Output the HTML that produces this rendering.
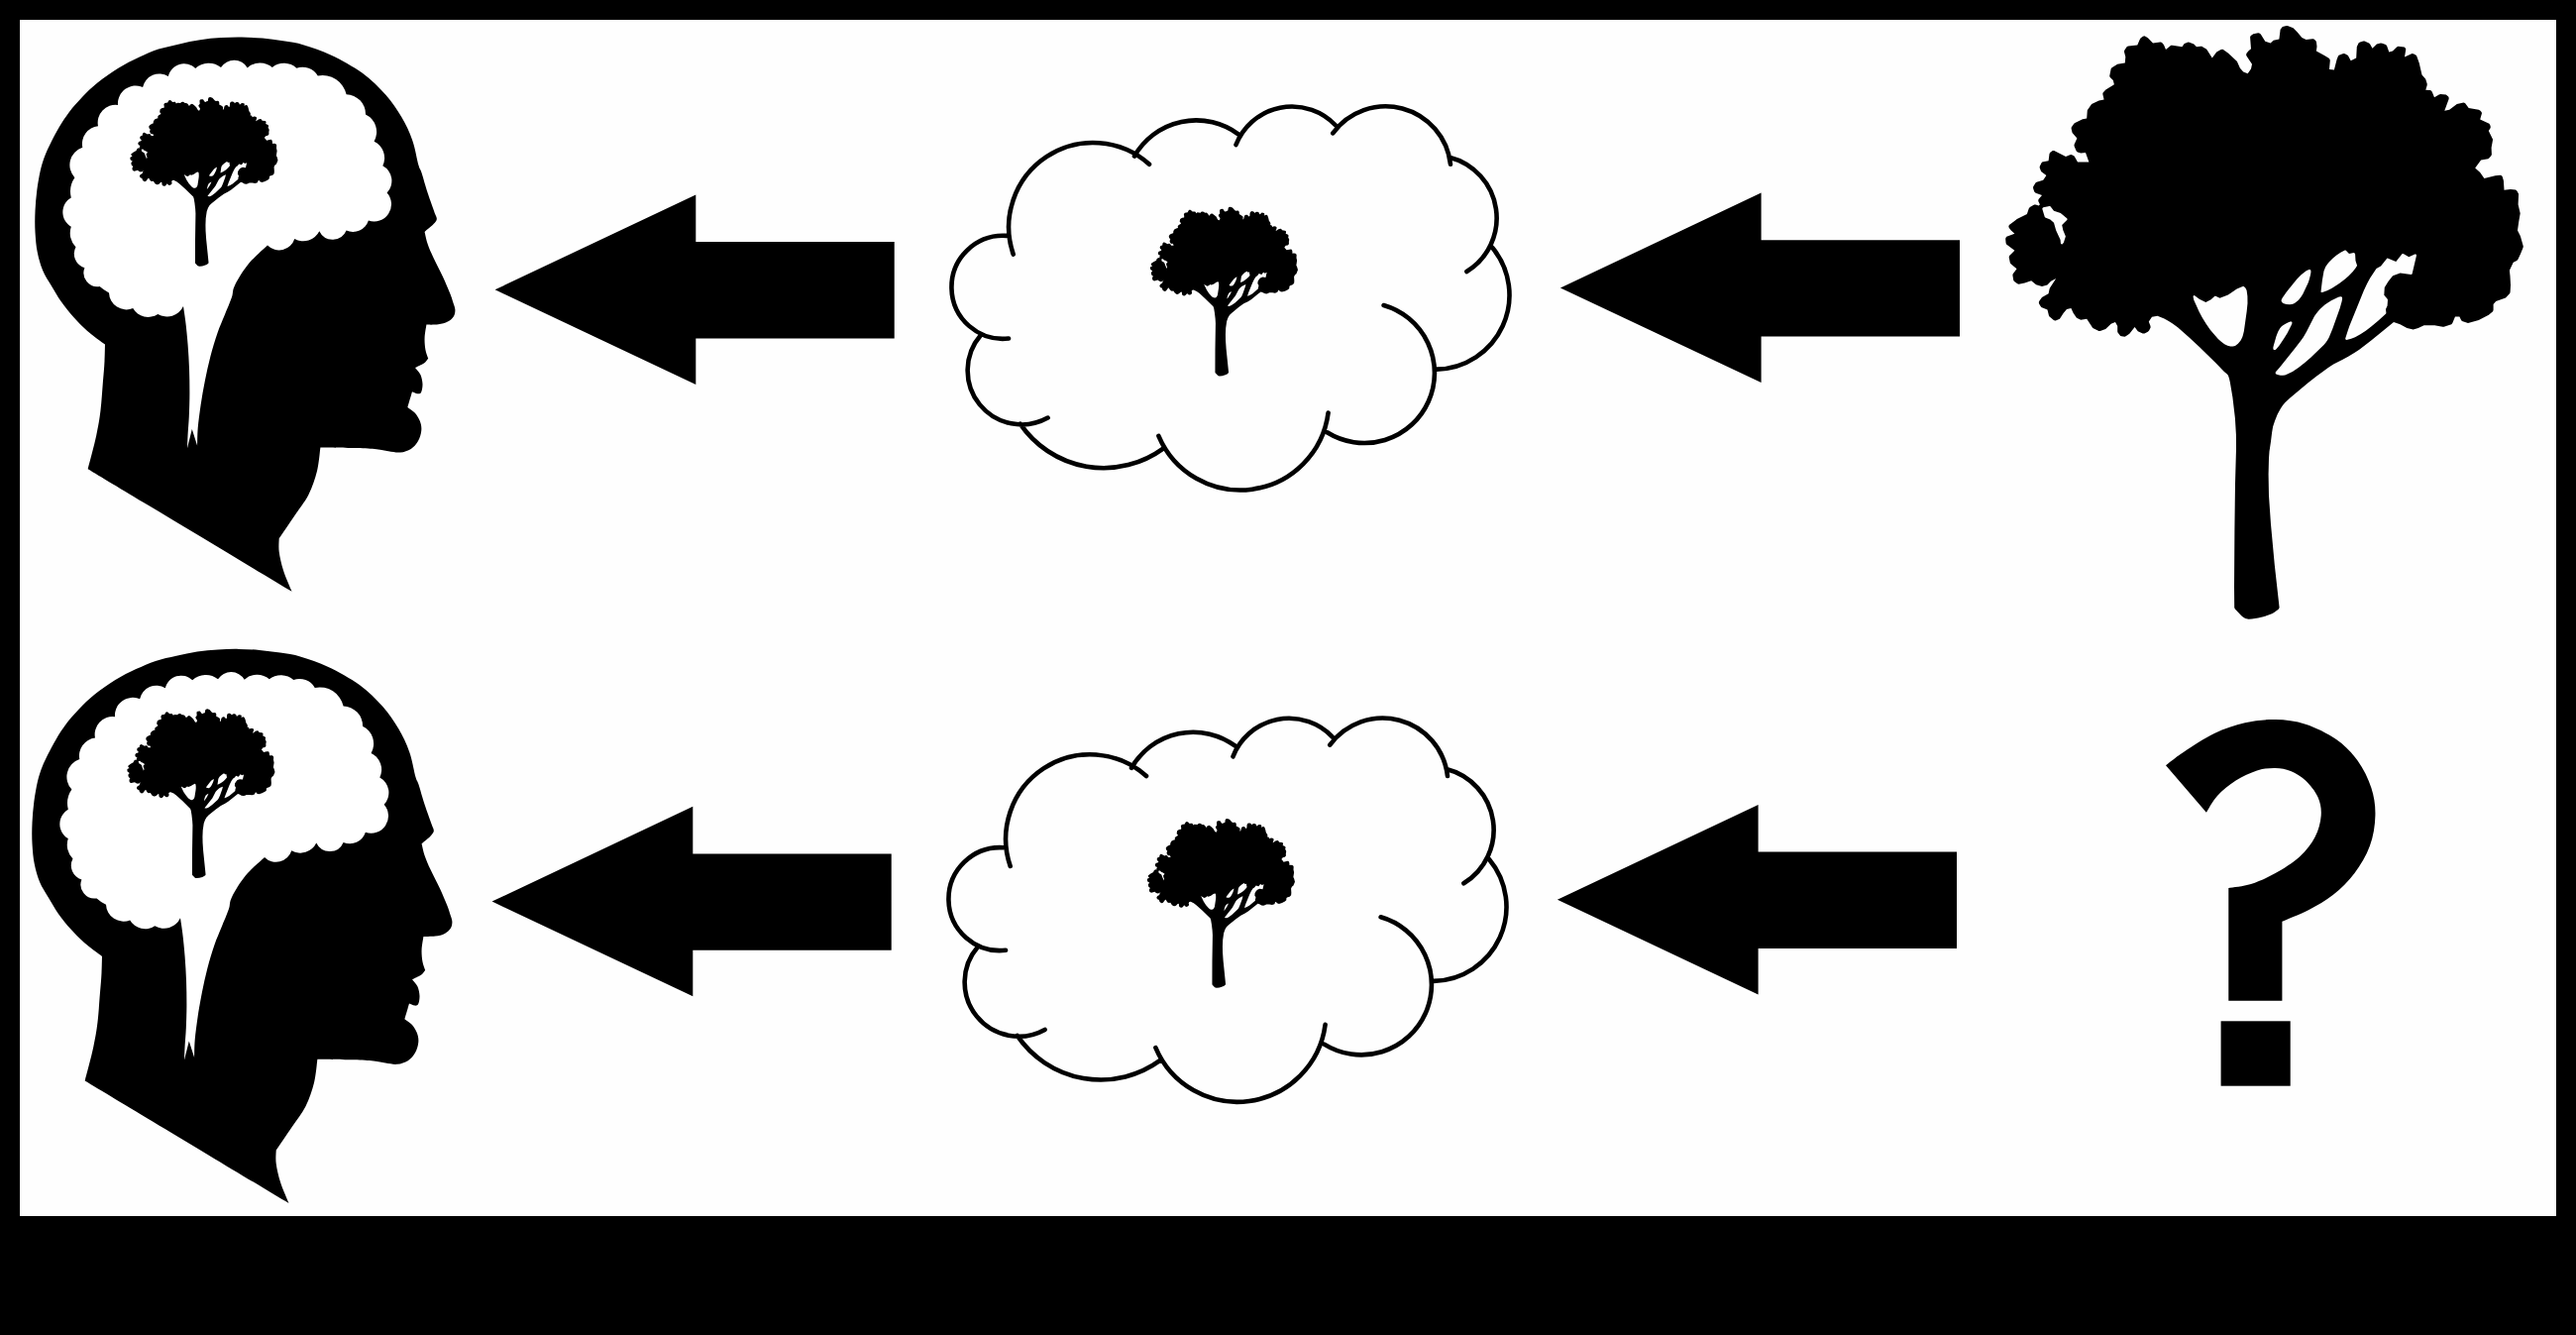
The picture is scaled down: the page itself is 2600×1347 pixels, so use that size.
<!DOCTYPE html>
<html><head><meta charset="utf-8"><title>diagram</title>
<style>
html,body{margin:0;padding:0;background:#000;}
body{width:2600px;height:1347px;overflow:hidden;font-family:"Liberation Sans",sans-serif;}
svg{display:block;}
</style></head><body>
<svg width="2600" height="1347" viewBox="0 0 2600 1347">
<defs>
<g id="tree">
<path d="M2033.4,235.8 L2025.3,238.8 L2024.4,239.9 L2024.2,241.2 L2024.6,245.2 L2025.1,246.5 L2033.4,252.8 L2028.4,257.8 L2028,258.3 L2027.7,259.5 L2028.8,265 L2029.3,266.1 L2035.5,271.3 L2031.6,276.4 L2031.4,277.8 L2032.3,282.9 L2033.1,283.9 L2036.2,286.3 L2037.6,286.8 L2043.6,285.4 L2050.2,283.3 L2055.1,287.2 L2061,289.1 L2066.4,287.5 L2070,283.7 L2075.2,281 L2069,290.5 L2068.6,291.4 L2067.6,296.3 L2061,300 L2058.3,303.7 L2057.8,305 L2058.1,306.5 L2059.6,309.1 L2060.3,310 L2066.5,312.6 L2068.1,318.9 L2072.8,323 L2074.1,323.5 L2074.8,323.5 L2078.9,321.7 L2082.8,315.8 L2086,312 L2090.4,311 L2092.7,316.1 L2096,320.7 L2100.2,322.8 L2106.2,321.8 L2112.3,330.9 L2118.4,334 L2119.7,334 L2125.2,332.1 L2130.7,326.7 L2135,325.1 L2137.2,328.9 L2137.2,334.5 L2137.5,335.6 L2140.2,338.9 L2141.4,339.3 L2144.5,339.7 L2145.6,339.3 L2149.3,336.7 L2154.6,330 L2157.8,334.2 L2162.7,336.6 L2164.5,336.4 L2167.9,334.7 L2169.1,333.5 L2170.6,330.4 L2170.5,328.9 L2168.8,324.5 L2172,319.7 L2177.6,318.7 L2184.4,321.6 L2188.9,323.9 L2193.2,326.7 L2198.3,330.6 L2209.3,340.2 L2220.1,350.2 L2236.7,366.4 L2244.9,375.1 L2247.6,377.2 L2248.4,378.1 L2249.2,379.6 L2250,381.9 L2250.8,385.6 L2253.4,400.7 L2255.9,421.9 L2256.9,438.6 L2257,452.8 L2256,487.8 L2255.4,534.7 L2255,592.2 L2255.2,612.9 L2255.7,614.2 L2256.1,614.7 L2262.3,621.3 L2264.1,622.8 L2266.3,624.1 L2269.5,624.8 L2272.9,624.6 L2279.2,623.6 L2284.5,622.3 L2289.7,620.6 L2293.6,618.9 L2295.6,617.7 L2299.7,614.7 L2300.4,613.6 L2300.6,613 L2295.8,570 L2292,529 L2290,500 L2289.6,478.6 L2290,462.5 L2290.5,455.4 L2292,445.5 L2293.1,436.6 L2294.1,430.6 L2296.1,424.4 L2298.7,418 L2302,411.9 L2304,409.1 L2306.3,406.3 L2311.4,401.5 L2329.3,386.4 L2337.9,379.7 L2349.9,370.9 L2355.2,367.4 L2364.1,363 L2370.1,359.7 L2376.7,355.8 L2381.3,352.7 L2393.3,343.5 L2416,325 L2422.5,327.2 L2429.4,331.1 L2435.7,332.5 L2440.8,331.1 L2446.6,328.3 L2457.3,328.3 L2465.4,329.8 L2466.6,329.7 L2474.3,327.2 L2475.3,326.1 L2478,319.6 L2482.4,319.6 L2484.1,322.9 L2485,323.9 L2491,325.9 L2501.8,322.9 L2511.9,317.7 L2516.1,314.3 L2516.6,312.8 L2516.6,307 L2519.2,303.9 L2529,300.4 L2533.2,295.9 L2533.6,294.8 L2534,287.8 L2533.5,278.4 L2532.9,272.8 L2536.7,264.7 L2540.2,262.9 L2541.4,261.7 L2544.3,255.4 L2546.6,249.7 L2546.8,248.6 L2543.9,238.2 L2541,232.6 L2542.2,223.9 L2543.7,215.2 L2541.6,206.3 L2542.1,195.7 L2540.6,192.9 L2539.5,191.8 L2538.8,191.6 L2533.9,190.9 L2527.5,191.8 L2526.9,182.3 L2525.6,178 L2524.6,177.1 L2523.2,176.8 L2518.5,177.2 L2507.4,179.9 L2503.2,174.1 L2498.2,169.6 L2504.1,161.4 L2511.3,160.3 L2512.3,159.6 L2514.3,157.3 L2514.9,156.1 L2514.6,149.1 L2516.1,140.7 L2511.8,132 L2513.7,129 L2513.7,127.5 L2513.2,126.1 L2512.4,124.8 L2503.2,120.5 L2505,114.3 L2504.6,113 L2503.2,111.4 L2501.8,110.7 L2491.7,109.1 L2488.4,104.6 L2487.9,104 L2486.5,103.5 L2479.8,104.9 L2472.2,110.8 L2467.3,111.8 L2471.6,100 L2471.7,98.8 L2471.2,97.6 L2468.8,95.6 L2463.2,95.1 L2461.7,95.4 L2457,98.3 L2454.8,92.7 L2453.9,91.6 L2452.6,91.1 L2448.3,90.7 L2449.7,85.9 L2449.7,84.5 L2448.2,79.8 L2444.5,75.4 L2441.7,63.6 L2439.1,56.3 L2438.2,55.4 L2436.4,54.4 L2434.6,54.1 L2427,57.5 L2428.3,49.7 L2427.8,48.4 L2426.7,47.5 L2420.5,46.8 L2419.1,47.5 L2415,51.5 L2411.3,52.6 L2409,46 L2407.9,45 L2404.4,43.7 L2402.9,43.6 L2398.9,44.6 L2394.5,48.8 L2392.1,44.6 L2391,43.5 L2386.6,41.4 L2385.3,41.5 L2382,42.5 L2380.8,43.2 L2380.4,43.8 L2378.8,47.2 L2378.2,58.6 L2372.7,61.3 L2369.9,56 L2366.8,54.2 L2365.3,54 L2361.3,55.5 L2360.1,56.3 L2358.6,60.1 L2355.9,70.5 L2351.2,70 L2351,69.8 L2351.8,61.3 L2351.6,59.9 L2350.6,58.8 L2346.1,55.9 L2337.9,51.5 L2338.5,46.9 L2338,42.6 L2337.3,41.1 L2336.1,39.9 L2335.1,39.3 L2333.9,39.2 L2327.6,40.1 L2323.4,38 L2318.8,32.4 L2314.6,28.2 L2308.8,26 L2307.7,25.9 L2303.8,27.1 L2301.6,29.8 L2300.4,39.6 L2294.6,40.8 L2291.7,43.4 L2286.3,41.7 L2281.8,34.5 L2280.4,33.4 L2279.2,33.3 L2274.3,34.2 L2271.8,35.9 L2271.2,37.1 L2271.1,37.8 L2272,49.3 L2269.6,51.2 L2267.7,53.4 L2267.4,53.9 L2267.1,55.2 L2267.5,56.4 L2273,64.8 L2272,69.5 L2268.7,74.3 L2264.2,72.6 L2260.9,68.7 L2258,62.3 L2257.4,61.4 L2249.1,53.8 L2243.9,50 L2243.2,49.8 L2241.7,50.1 L2237.2,52.6 L2232.8,58.6 L2227.7,50.4 L2226.9,49.6 L2222.2,46.8 L2221.1,46.7 L2217,47.2 L2214.3,44.5 L2209.8,42.7 L2208.6,42.5 L2208,42.7 L2204.7,44 L2202.4,47.2 L2192.6,45.7 L2191.2,45.8 L2186,49.9 L2184,45.3 L2182.1,43 L2180.9,42.5 L2180.3,42.5 L2173,43.4 L2167.9,38.2 L2165.4,36.7 L2164.2,36.3 L2162.4,37 L2160.1,39 L2157.3,45.5 L2148.2,46.5 L2146.8,47 L2144.4,50.5 L2143.9,51.9 L2145.3,57.2 L2144.8,63.5 L2137.2,64.7 L2131.6,68.3 L2130.7,69.3 L2129.2,76.8 L2129.7,78.1 L2132.8,80.9 L2133.9,85.2 L2125.4,90.5 L2122.6,93.4 L2122.3,94.7 L2122.4,95.3 L2123.6,100.4 L2118.5,101.6 L2111.1,104.9 L2106.8,111.3 L2106.2,119.5 L2102,120.2 L2094.3,124 L2093.3,124.8 L2090.7,128.4 L2090.6,129.8 L2091.6,134.1 L2096.4,139.6 L2093.5,146.1 L2093.6,147.6 L2095.5,152 L2095.8,152.6 L2096.9,153.4 L2100.2,154.6 L2105,154.1 L2108.4,163.4 L2097,163.4 L2093.6,157.5 L2090.7,156.1 L2089.3,156.2 L2085,157.9 L2073.2,151.9 L2071.8,152 L2069.1,153.9 L2068.5,155.2 L2067.6,162.3 L2062.3,163.2 L2061.2,163.6 L2060.4,164.5 L2058.7,168 L2058.7,169.3 L2060.1,173.1 L2065.4,177 L2062.2,181.8 L2055.6,183.7 L2054.5,184.4 L2052.1,188.6 L2052.1,190 L2053.1,193.1 L2053.7,194.1 L2054.7,194.7 L2061,197 L2057.8,200.7 L2057.3,201.8 L2057.3,203 L2058.9,206.3 L2057.8,207.4 L2054.6,206.6 L2053.2,206.6 L2048.8,209.1 L2047.7,210.5 L2045.9,216 L2035.8,221.1 L2027.9,226.9 L2027.4,228.2 L2027.4,228.9 L2027.9,230.1 L2029.8,232.6Z" fill="#000"/>
<path d="M2061.3,210.8 L2063.8,219.1 L2064.3,219.5 L2069.3,221.6 L2073,224.8 L2075.2,232.5 L2079.6,242.1 L2079.9,245.6 L2080.5,246.2 L2081.1,246.4 L2081.7,246.2 L2082.9,244.7 L2084.9,238.6 L2082.3,232.3 L2081.2,227 L2086.2,222 L2086.6,221.4 L2086.4,220.4 L2079.8,215.1 L2073,212.8 L2069.7,208.5 L2069.1,208.1 L2068.5,208.1 L2062.3,209.3 L2061.5,209.9ZM2343.4,295.1 L2344,295.1 L2349.4,293.1 L2353.8,290.8 L2361.1,286 L2367,281.5 L2370.7,278.2 L2374.8,273.9 L2377.5,270.5 L2379.1,267.9 L2377.5,262.9 L2377.1,256.3 L2376.6,255.4 L2375.7,255.1 L2371,256 L2367.8,252.8 L2367.3,252.5 L2366.7,252.5 L2362.4,254.8 L2358.3,257.4 L2354.4,260.7 L2350.9,264.2 L2348.9,266.7 L2347.2,269.2 L2345.5,273.5 L2343.9,282.8 L2342.5,294.4 L2342.9,294.9ZM2327.7,273.3 L2322.6,277.2 L2318.2,281.8 L2307.9,294.4 L2303.7,300.6 L2302.8,302.2 L2302.6,303.4 L2302.7,304.1 L2303.3,305.1 L2304.4,305.9 L2307.5,307 L2311,307.3 L2313,307.1 L2314.9,306.5 L2316.6,305.6 L2320,302.7 L2322.9,298.9 L2324.4,296.5 L2329.5,285.8 L2330.5,283 L2331.9,277.8 L2332.4,274.9 L2332.4,273.2 L2332.2,272.4 L2331.6,271.9 L2330.4,271.9ZM2368.4,343 L2369.3,342.8 L2373.1,341.7 L2377,340.2 L2382.4,337.3 L2387.8,333.7 L2393.3,329.5 L2400.5,323.4 L2408.2,316.5 L2408.4,315.7 L2408,312 L2409.6,308.5 L2410,302.7 L2409.7,301.8 L2406.3,297.8 L2406.8,290.1 L2410.7,283.7 L2415.1,278.3 L2422.6,275.5 L2433.5,277 L2434.6,276.6 L2439,257.8 L2438.7,256.7 L2438.2,256.4 L2437.3,256.4 L2431.3,259.2 L2425.7,255.9 L2424.6,255.9 L2418.3,264.1 L2410.4,260.7 L2409.5,260.6 L2409,261 L2403,268.5 L2398.5,270.9 L2392.2,280.4 L2389.1,286.2 L2385.7,293.5 L2371.3,329.1 L2369.6,333.9 L2367.2,341.4 L2367.3,342.3 L2367.8,342.8ZM2213.5,299 L2214.3,302.7 L2219.6,314.5 L2222.8,320.5 L2226.5,326.6 L2230.8,332.7 L2235.5,338.3 L2238.8,342 L2242.2,345.1 L2245.2,347.3 L2248.3,348.8 L2251.2,349.5 L2253.7,349.5 L2256,348.9 L2258.9,346.8 L2261.6,343.5 L2263.1,340.6 L2263.8,338.6 L2264.9,333.9 L2267.7,314 L2268.5,306 L2268.4,298.8 L2267.6,293.1 L2266.5,290.7 L2264.8,289.1 L2264.2,288.9 L2263.6,289 L2257.7,291.5 L2248.9,297.4 L2240.5,300.7 L2236.3,298.8 L2235.4,298.8 L2231.6,302.3 L2226.3,305 L2219.8,301.7 L2215.4,298.4 L2214.8,298.1 L2214.2,298.2ZM2296.6,352.9 L2297.7,352.1 L2300.6,348.5 L2305.6,341.1 L2308.7,336.1 L2312.6,328.3 L2313.5,325.9 L2313.3,325 L2312.9,324.6 L2311.6,324.5 L2309.1,325.4 L2306.3,326.9 L2303.9,328.4 L2302.4,329.7 L2301.2,331.2 L2299.2,334.8 L2297.4,339.6 L2294.7,349 L2294.3,351 L2294.5,352.5 L2295.2,353.1 L2295.8,353.1ZM2360.2,299.8 L2353,303.3 L2348.7,305.9 L2346.5,307.6 L2342,311.5 L2339.8,313.9 L2337.8,316.4 L2336,319.1 L2328.1,334.5 L2324.8,340.2 L2321.7,344.6 L2316.3,351.5 L2300.9,370.7 L2296.9,375.3 L2296.6,376.6 L2297.3,377.4 L2299.5,378.3 L2301.8,378.8 L2304.1,378.8 L2306.3,378.4 L2308.6,377.6 L2313.9,375 L2319.8,371.1 L2325.9,366.3 L2332,360.9 L2345.5,348.1 L2347.6,345.6 L2349.3,343 L2350.7,340.4 L2354.2,331.9 L2361.7,310.9 L2363.6,304.2 L2364.1,301.5 L2364,300.3 L2363.5,299.4 L2362.2,299.2Z" fill="#fefefe"/>
</g>
<path id="stree" d="M2024.8,237.6 L2023.4,239 L2022.9,241 L2023.9,247 L2031.4,252.9 L2027,257.5 L2026.4,259.8 L2028.1,266.6 L2033.7,271.5 L2030.3,276.3 L2031,283.1 L2032.1,284.7 L2035.4,287.3 L2037.9,288 L2049.9,284.8 L2054.7,288.4 L2061,290.4 L2066.8,288.8 L2071.4,284.5 L2067.8,290 L2066.4,295.4 L2060,299.3 L2057.3,302.9 L2056.5,305.3 L2057,307.1 L2059.4,310.8 L2065.4,313.6 L2067,319.6 L2072.2,324.2 L2074.8,324.8 L2079.5,322.9 L2086.7,313.2 L2089.6,312.5 L2091.7,316.8 L2095.4,321.9 L2100,324.1 L2105.6,323.2 L2111.2,331.6 L2117.8,335.2 L2120.1,335.2 L2125.6,333.4 L2131.4,327.8 L2134.4,326.7 L2135.9,329.3 L2135.9,334.5 L2136.5,336.5 L2139.7,340.1 L2144.3,341 L2146.4,340.3 L2150,337.7 L2154.6,332.1 L2157.3,335.4 L2162.1,337.8 L2165,337.6 L2168.5,335.8 L2170.3,334.1 L2171.9,330.2 L2170.2,324.6 L2172.8,320.9 L2177.4,320 L2188.2,325.1 L2197.5,331.6 L2219.2,351.1 L2247.3,378.9 L2249.6,385.8 L2252.1,400.8 L2254.6,422 L2255.6,438.7 L2254.1,534.7 L2253.9,612.9 L2254.7,615.1 L2263.2,623.8 L2266,625.4 L2269.6,626.1 L2279.5,624.8 L2290.2,621.8 L2296.4,618.7 L2300.4,615.7 L2301.9,613.3 L2293.3,528.9 L2291.3,500 L2290.9,478.6 L2291.8,455.5 L2295.4,430.9 L2299.9,418.6 L2305,409.8 L2312.3,402.5 L2338.6,380.8 L2355.8,368.5 L2370.8,360.9 L2382,353.8 L2416.3,326.5 L2421.9,328.3 L2429.1,332.4 L2436.1,333.8 L2441.4,332.2 L2446.9,329.6 L2457.2,329.6 L2467,331 L2475.3,328.1 L2478.9,320.9 L2481.6,320.9 L2483.1,323.8 L2484.6,325.2 L2491.4,327.1 L2502.4,324 L2512.7,318.8 L2517.4,314.7 L2517.9,307.5 L2520,305 L2529.4,301.7 L2534.5,296.3 L2535.3,287.8 L2534.3,273 L2537.7,265.7 L2540.8,264.1 L2542.6,262.2 L2548.1,248.8 L2545.1,237.9 L2542.4,232.4 L2545,215.4 L2542.9,206.2 L2543.4,195.8 L2541.8,192.3 L2538.9,190.3 L2533.7,189.6 L2528.7,190.3 L2528.2,181.9 L2526.8,177.6 L2525.4,176.1 L2523.1,175.5 L2518.4,175.9 L2507.9,178.4 L2504.2,173.3 L2500,169.4 L2504.9,162.6 L2512.1,161.3 L2515.5,157.9 L2516.2,156.1 L2515.9,149.2 L2517.3,140.9 L2513.3,132.1 L2515,129 L2514.5,125.7 L2513,123.6 L2504.8,119.8 L2506.2,114 L2505.6,112.1 L2504.2,110.5 L2502,109.4 L2492.4,107.9 L2488.8,103.1 L2486.2,102.2 L2479,103.8 L2471.6,109.6 L2469.3,110 L2472.8,100.4 L2472.5,97.1 L2469,94.3 L2463.4,93.8 L2461,94.3 L2457.6,96.4 L2455,90.8 L2453.1,89.8 L2450,89.5 L2450.9,84.1 L2449.2,79 L2445.7,74.8 L2443,63.3 L2440.3,55.8 L2437,53.3 L2434.8,52.8 L2428.7,55.3 L2429.5,49.2 L2427.5,46.5 L2420.2,45.5 L2418.2,46.5 L2414.3,50.3 L2412.1,51 L2409.8,45 L2404.9,42.5 L2402.6,42.3 L2398.5,43.3 L2394.8,46.7 L2391.9,42.6 L2387.2,40.3 L2384.9,40.2 L2381.6,41.2 L2379.7,42.5 L2377.6,46.7 L2376.9,57.8 L2373.3,59.6 L2371.1,55.4 L2367,53 L2364.9,52.7 L2360.8,54.3 L2358.9,55.9 L2357.4,59.6 L2354.9,69.1 L2352.4,68.8 L2353.1,61.4 L2352.6,59 L2346.8,54.8 L2339.3,50.8 L2339.8,46.7 L2339.3,42.5 L2337,39 L2334,37.9 L2327.8,38.7 L2324.2,36.9 L2315.5,27.3 L2307.9,24.6 L2303,26 L2300.6,29 L2299.2,38.5 L2294.3,39.5 L2291.4,41.9 L2287.2,40.6 L2282.9,33.8 L2280.9,32.2 L2274.1,32.9 L2270.6,35.3 L2269.8,37.7 L2270.6,48.7 L2266.8,52.5 L2265.8,54.9 L2266.4,57.1 L2271.6,65 L2270.8,69 L2268.2,72.7 L2265,71.5 L2262,68 L2258.3,60.5 L2249.9,52.7 L2243.4,48.5 L2241.1,49 L2236.6,51.5 L2232.9,56.3 L2227.5,48.5 L2222.4,45.5 L2217.5,45.8 L2214.8,43.3 L2210.3,41.5 L2208.3,41.2 L2204.2,42.8 L2201.8,45.8 L2191.1,44.6 L2186.5,47.8 L2185.1,44.5 L2182.6,41.8 L2180.3,41.2 L2173.5,42 L2168.5,37.1 L2164.1,35 L2161.6,36 L2159.2,38.1 L2156.4,44.3 L2146.3,45.8 L2143.3,49.7 L2142.7,51.5 L2144,57.3 L2143.6,62.4 L2136.5,63.6 L2130.9,67.2 L2129.4,69.1 L2128,77.2 L2128.8,79 L2131.6,81.6 L2132.4,84.6 L2124.7,89.4 L2121.7,92.5 L2121,94.8 L2122,99.4 L2118,100.4 L2110,104.2 L2105.7,110.6 L2105,118.4 L2101.4,119 L2093.7,122.9 L2089.5,128.3 L2090.3,134.3 L2094.8,139.8 L2092.2,146.3 L2094.4,152.6 L2096.1,154.4 L2099.8,155.8 L2104.1,155.5 L2106.5,162.1 L2097.8,162.1 L2094.7,156.8 L2091.3,154.9 L2088.9,155 L2085.1,156.5 L2073.2,150.6 L2071.1,150.9 L2068.4,152.9 L2067.3,155 L2066.4,161.2 L2060.2,162.8 L2057.4,168 L2058.9,173.6 L2063.6,177.3 L2061.4,180.7 L2053.8,183.3 L2050.8,188.6 L2052.6,194.8 L2058.8,197.6 L2056,201.8 L2057.2,205.9 L2053.2,205.3 L2048.2,208 L2046.5,210.1 L2044.8,215.1 L2035.2,220 L2027.2,225.9 L2026.2,227.6 L2026.2,229.3 L2028.8,233.4 L2030.9,235.3ZM2368.5,341.6 L2372.5,329.6 L2386.9,294 L2393.3,281.1 L2399.4,271.9 L2404,269.3 L2409.9,262 L2418.3,265.4 L2419.3,264.9 L2425.2,257.2 L2431.2,260.5 L2437.6,257.7 L2433.5,275.7 L2422.8,274.2 L2414.6,277.1 L2409.7,282.9 L2405.7,289.5 L2405.1,298.2 L2408.7,302.8 L2408.3,308.1 L2406.7,312.1 L2407.1,315.8 L2387.1,332.6 L2376.4,339ZM2343.9,293.7 L2346.8,273.9 L2348.4,269.8 L2351.9,265 L2359.1,258.5 L2367,253.8 L2370.6,257.2 L2375.7,256.5 L2376.2,263 L2377.7,267.7 L2373.8,273.1 L2366.1,280.5 L2360.3,284.9 L2353.2,289.7ZM2362.3,300.6 L2362.8,301.5 L2360.5,310.5 L2353,331.4 L2348.2,342.4 L2344.6,347.2 L2325.1,365.3 L2313.3,373.9 L2308.1,376.4 L2304,377.5 L2299.9,377.1 L2298.1,376.3 L2325.9,341 L2337.1,319.8 L2340.8,314.7 L2349.4,307 L2353.6,304.4ZM2323.4,278.2 L2331.1,273.3 L2330.6,277.5 L2328.3,285.3 L2323.2,295.9 L2319.1,301.8 L2315.9,304.5 L2312.8,305.8 L2307.7,305.7 L2304.2,304.2 L2303.9,303.5 L2304.8,301.3 L2319.1,282.7ZM2295.7,351.8 L2298.7,340 L2302.3,332 L2306.9,328 L2312.1,325.9 L2307.6,335.5 L2304.5,340.4 L2299.6,347.7ZM2215,299.7 L2219.3,302.9 L2226.3,306.3 L2232.2,303.5 L2235.9,300.1 L2240.9,301.9 L2249.7,298.5 L2258.3,292.6 L2263.9,290.3 L2265.4,291.5 L2266.4,293.5 L2267.1,298.9 L2267.2,306 L2266.4,313.8 L2262.6,338.3 L2260.5,342.8 L2258,345.9 L2253.5,348.2 L2248.8,347.5 L2243,344.1 L2239.7,341 L2231.9,331.9 L2223.9,319.9 L2215.5,302.3ZM2062.7,210.6 L2068.7,209.4 L2072.6,214 L2079.1,216.3 L2085.2,221.1 L2079.9,226.8 L2081,232.6 L2083.5,238.6 L2081.1,244.8 L2080.7,241.6 L2076.5,232 L2074.2,224.4 L2070.1,220.6 L2064.9,218.3Z" fill="#000" fill-rule="evenodd"/>
<g id="head">
<path d="M439.4,216.5 C439.6,217.3 441.1,219.7 440.8,221.3 C440.5,222.9 439.6,224 437.6,226.1 C435.6,228.2 430.1,232.6 428.6,233.9 C429.1,235.9 430.1,241.5 431.6,245.9 C433.1,250.3 435,254.7 437.6,260.3 C440.2,265.9 444.3,273.5 447.1,279.5 C449.9,285.5 452.4,291.6 454.3,296.3 C456.2,301.1 457.6,306.1 458.3,308 C458.5,308.9 459.5,311.3 459.4,313.2 C459.3,315.1 459.1,317.3 457.9,319.2 C456.6,321.1 454.5,323.2 451.9,324.6 C449.3,326 446,326.8 442.4,327.3 C438.8,327.8 432.4,327.6 430.4,327.6 C430.1,329.8 428.8,336.6 428.6,340.8 C428.4,345 428.8,349.3 429.4,352.8 C430,356.3 431.7,360.3 432.2,361.8 C431.5,362.6 430.2,365 428,366.5 C425.8,368 420.5,370.2 419,371 C419.9,372.2 423.1,375.2 424.4,378 C425.6,380.8 426.4,384.5 426.5,387.5 C426.6,390.5 425.9,394.4 425,396 C424.1,397.6 422.9,397.4 421.4,397.3 C419.9,397.2 416.9,395.6 416,395.3 C415.2,397.9 412.2,408.3 411.4,410.9 C412.6,411.8 416.3,414 418.4,416.3 C420.5,418.6 422.6,421.7 423.8,424.7 C425,427.7 425.6,430.9 425.3,434.3 C425,437.7 423.8,441.9 422,445 C420.2,448.1 417.8,451 414.8,452.9 C411.8,454.8 407.8,456.1 404,456.5 C400.2,456.9 396,455.8 392,455.3 C388,454.8 385.3,453.9 380,453.3 C374.7,452.8 369.4,452.3 360,452 C350.6,451.7 329.5,451.5 323.4,451.4 C322.8,455.4 322,467.3 320,475.2 C318,483.1 315.2,491.6 311.5,499 C307.8,506.4 302.9,512 297.9,519.4 C292.9,526.8 284.4,539.2 281.7,543.2 C281.7,545.5 281,551.4 281.7,556.8 C282.4,562.2 283.9,568.8 286,575.5 C288.1,582.2 293.1,593.2 294.5,596.8 C260.2,576.2 123,493.8 88.7,473.2 C90.1,467.6 95.1,449.4 97.2,439.5 C99.3,429.6 100.4,423 101.5,414 C102.6,405 103.2,393.6 103.9,385.3 C104.6,377 105.2,370.7 105.5,364.4 C105.8,358.1 105.9,350.4 106,347.6 C103,345.3 93.5,338.6 88.2,334 C83,329.4 78.9,325.2 74.5,320.3 C70.1,315.4 65.7,310 61.9,304.6 C58.1,299.2 54.6,293.1 51.5,287.8 C48.4,282.5 45.4,278.2 43.1,272.7 C40.8,267.2 39.1,261.3 37.8,254.8 C36.5,248.3 35.9,240.9 35.5,233.9 C35.1,226.9 35.2,219.9 35.5,212.9 C35.8,205.9 36.4,199 37.3,192 C38.2,185 39.6,177 41,171 C42.4,165 44.1,160.4 45.8,156 C47.5,151.6 48.9,148.9 51.2,144.3 C53.5,139.7 56.5,133.8 59.6,128.6 C62.8,123.3 66.2,117.9 70.1,112.8 C73.9,107.7 78,103.1 82.7,98.2 C87.4,93.3 92.3,88.4 98.4,83.5 C104.5,78.6 112.4,73.1 119.4,68.8 C126.4,64.5 133.5,61 140.3,57.8 C147.1,54.6 153.2,51.8 160,49.6 C166.8,47.4 174,46 181,44.4 C188,42.8 195,41.2 202,40.2 C209,39.2 215.9,38.5 222.9,38.1 C229.9,37.7 236.9,37.5 243.9,37.6 C250.9,37.7 257.9,38 264.9,38.6 C271.9,39.2 278.8,40.2 285.8,41.3 C292.8,42.4 298.7,43 306.8,45.4 C314.9,47.8 324.6,51 334.4,55.7 C344.2,60.4 356.6,67.1 365.8,73.8 C375,80.5 382.8,88.5 389.4,95.8 C395.9,103.1 400.6,110.2 405.1,117.8 C409.6,125.4 413.3,133.3 416.2,141.4 C419.1,149.5 420.8,161 422.4,166.5 C424,172 424.1,169.8 425.6,174.4 C427.1,179.1 429.3,187.4 431.6,194.4 C433.9,201.4 438.1,212.8 439.4,216.5Z" fill="#000"/>
<path d="M71.8,199.4 A25,25 0 0 1 75.4,179.2 A18.6,18.6 0 0 1 83.3,148.8 A18,18 0 0 1 99,127.3 A18,18 0 0 1 119,105.9 A18,18 0 0 1 144.1,88 A17,17 0 0 1 169.8,77 A16.5,16.5 0 0 1 197.2,68.9 A20,20 0 0 1 223,68 A15.7,15.7 0 0 1 249.7,68.4 A19,19 0 0 1 274.8,68 A19,19 0 0 1 299.3,68.7 A18,18 0 0 1 320.8,76.6 A24.5,24.5 0 0 1 349.6,95.3 A19.7,19.7 0 0 1 369,115.4 A19.6,19.6 0 0 1 377.6,142.7 A18.3,18.3 0 0 1 386.3,167.2 A17.4,17.4 0 0 1 390.6,194.5 A17.4,17.4 0 0 1 371.9,222.5 A16.6,16.6 0 0 1 349.6,232.6 A15,15 0 0 1 322.3,233.3 A18,18 0 0 1 297.3,241 A16.4,16.4 0 0 1 270,247.6 C266.8,250.7 256.5,259.3 251,266 C245.5,272.7 239.8,282.2 237,287.9 C234.2,293.6 235.6,295 233.9,300 C232.2,305 229.1,312 226.7,318 C224.3,324 221.9,329 219.5,336 C217.1,343 214.4,351.9 212.3,359.9 C210.2,367.9 208.5,375.9 206.9,383.9 C205.3,391.9 203.9,399.9 202.7,407.9 C201.5,415.9 200.3,424.9 199.7,431.9 C199.1,438.9 199.2,446.8 199.1,449.8 L193.8,433.1 L189,452.2 C189.1,449.8 189.3,443.3 189.6,437.9 C189.9,432.5 190.5,426.9 190.8,419.9 C191.1,412.9 191.4,403.9 191.4,395.9 C191.4,387.9 191.3,379.9 191,371.9 C190.7,363.9 190.2,356 189.6,348 C189,340 188,330.5 187.2,324 C186.4,317.5 185.4,311.5 185,309 A18,18 0 0 1 159.3,316.9 A17.6,17.6 0 0 1 134.2,311.1 A17.6,17.6 0 0 1 110,295.4 A40,40 0 0 1 100.6,289.1 A14,14 0 0 1 85.4,270.2 A14.7,14.7 0 0 1 76.5,249.2 A20,20 0 0 1 71.8,228.8 A17,17 0 0 1 71.8,199.4Z" fill="#fff"/>
<use href="#stree" transform="translate(203.5,268.2) scale(0.284) translate(-2277,-624)"/>
</g>
<path id="arrow" d="M499.6,292.3 L702.3,196.4 L702.3,244.1 L902.7,244.1 L902.7,341.4 L702.3,341.4 L702.3,387.9Z" fill="#000"/>
<g id="cloud">
<path d="M1022.7,256.6 A85.1,85.1 0 0 1 1160,165.7 M1145,157.5 A71.7,71.7 0 0 1 1249.8,135.4 M1247.5,146 A60.7,60.7 0 0 1 1347.6,126 M1345.3,134.3 A65.9,65.9 0 0 1 1464,165.7 M1463,158.7 A63.3,63.3 0 0 1 1480.4,274 M1506,249.6 A74.9,74.9 0 0 1 1450,372.6 M1396.6,308 A70.9,70.9 0 1 1 1339.5,436.3 M1015.7,237.9 A52,52 0 1 0 1018,341.5 M990,338 A54.6,54.6 0 0 0 1057.6,421.6 M1029.7,427.6 A101.9,101.9 0 0 0 1174,452.6 M1169.4,439.8 A89.5,89.5 0 0 0 1340.6,416.5" fill="none" stroke="#000" stroke-width="4.6" stroke-linecap="round"/>
<use href="#stree" transform="translate(1233,378.9) scale(0.284) translate(-2277,-624)"/>
</g>
<g id="row">
<use href="#head"/>
<use href="#arrow"/>
<use href="#cloud"/>
<use href="#arrow" transform="translate(1075.3,-1.8)"/>
</g>
</defs>
<rect x="0" y="0" width="2600" height="1347" fill="#000"/>
<rect x="20" y="20" width="2560" height="1207" fill="#fefefe"/>
<use href="#row"/>
<use href="#row" transform="translate(-3,617.3)"/>
<use href="#tree"/>
<path d="M2186,772.2 C2189.1,769.9 2196.3,763.8 2204.5,758.4 C2212.7,753 2224.8,744.9 2235,740 C2245.2,735.1 2255.7,731.5 2266,729.2 C2276.3,726.9 2286.4,725.8 2296.6,726 C2306.8,726.2 2316.8,727.4 2327,730.7 C2337.2,734 2349.2,739.9 2358,746 C2366.8,752.1 2373.7,759.4 2379.6,767.6 C2385.5,775.8 2390.4,785.8 2393.4,795 C2396.4,804.2 2397.7,813.1 2397.4,822.9 C2397.2,832.7 2395.4,843.9 2391.9,853.6 C2388.4,863.3 2382.7,872.8 2376.5,881 C2370.3,889.2 2362.7,896.6 2355,902.8 C2347.3,909 2339,913.5 2330.4,918 C2321.8,922.5 2307.9,927.8 2303.4,929.8 L2303.4,1009.7 L2249.3,1009.7 L2249.3,896 C2253.1,895.3 2264.1,894.5 2272,892 C2279.9,889.5 2288.4,885.6 2296.6,881 C2304.8,876.4 2314.3,870.5 2321,864.4 C2327.7,858.3 2333,851.3 2336.6,844.4 C2340.2,837.5 2342.2,829.5 2342.7,822.9 C2343.2,816.2 2342.2,810.4 2339.6,804.5 C2337,798.6 2331.6,792 2327,787.6 C2322.4,783.2 2317.1,780.1 2312,778 C2306.9,775.9 2302.3,775.1 2296.6,775 C2290.9,774.9 2284.7,775.3 2278,777.4 C2271.3,779.5 2263.4,783.3 2256.7,787.6 C2250,791.9 2243,797.6 2238,803 C2233,808.4 2228.8,817 2226.9,819.8Z" fill="#000"/>
<rect x="2241.6" y="1030.3" width="70.1" height="65.4" fill="#000"/>
</svg>
</body></html>
